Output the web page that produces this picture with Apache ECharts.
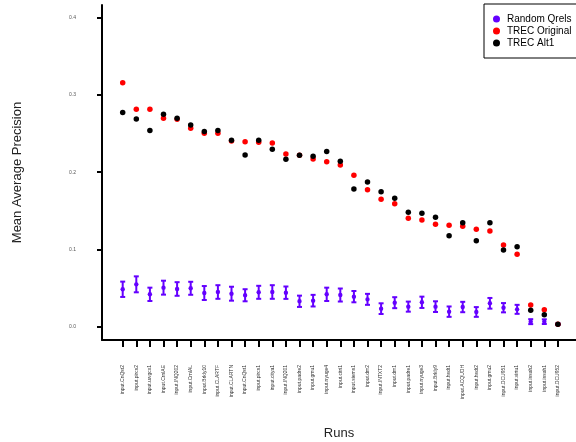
<!DOCTYPE html>
<html>
<head>
<meta charset="utf-8">
<script src="https://cdn.jsdelivr.net/npm/echarts@6/dist/echarts.min.js"></script>
<style>html,body{margin:0;padding:0;background:#fff}#c{width:576px;height:442px}</style>
</head>
<body>
<div id="c"></div>
<script>
const runs = ["input.CnQst2","input.pircs2","input.uwgcx1","input.CrnlAE","input.INQ202","input.CrnlAL","input.Brkly10","input.CLARTF","input.CLARTN","input.CnQst1","input.pircs1","input.citya1","input.INQ201","input.padre2","input.gmu1","input.nyuge4","input.citri1","input.siems1","input.dm2","input.INTXT2","input.dm1","input.padre1","input.nyuge3","input.Brkly9","input.hsdt1","input.ACQUDH","input.hsdt2","input.gmu2","input.DCU951","input.virtu1","input.issah2","input.issah1","input.DCU952"];
const trecOriginal = [0.3156,0.2812,0.2812,0.2696,0.2683,0.2567,0.2502,0.2502,0.2403,0.2394,0.2386,0.2377,0.2235,0.2218,0.2171,0.2134,0.2093,0.1960,0.1774,0.1650,0.1593,0.1404,0.1382,0.1327,0.1314,0.1301,0.1262,0.1240,0.1059,0.0939,0.0284,0.0224,0.0035];
const trecAlt1 = [0.2769,0.2687,0.2537,0.2748,0.2696,0.2610,0.2524,0.2537,0.2412,0.2222,0.2412,0.2296,0.2166,0.2218,0.2205,0.2268,0.2141,0.1783,0.1873,0.1748,0.1663,0.1481,0.1469,0.1417,0.1180,0.1348,0.1115,0.1348,0.0995,0.1037,0.0215,0.0159,0.0035];
const qrelsMean = [0.0487,0.0551,0.0422,0.0508,0.0491,0.0500,0.0439,0.0452,0.0430,0.0410,0.0448,0.0452,0.0443,0.0332,0.0340,0.0422,0.0413,0.0392,0.0357,0.0237,0.0314,0.0263,0.0319,0.0263,0.0198,0.0258,0.0194,0.0306,0.0249,0.0228,0.0069,0.0069,0.0035];
const qrelsErr = [0.0099,0.0103,0.0086,0.0090,0.0088,0.0084,0.0090,0.0088,0.0090,0.0078,0.0084,0.0088,0.0080,0.0073,0.0075,0.0086,0.0084,0.0073,0.0071,0.0069,0.0071,0.0065,0.0073,0.0069,0.0067,0.0067,0.0063,0.0069,0.0060,0.0058,0.0032,0.0030,0.0010];
const yTicks = [0, 0.1, 0.2, 0.3, 0.4];
const seriesNames = ["Random Qrels", "TREC Original", "TREC Alt1"];

const PURPLE = '#6400ff';
const xIdx = runs.map((r, i) => i + 1);

const chart = echarts.init(document.getElementById('c'), null, {renderer: 'canvas'});
chart.setOption({
  animation: false,
  backgroundColor: '#fff',
  textStyle: {fontFamily: 'Liberation Sans, Arial, sans-serif'},
  grid: {left: 102, right: 0, top: 5, bottom: 102, containLabel: false, outerBoundsMode: 'none'},
  legend: {
    orient: 'vertical', left: 484, top: 4,
    padding: [9, 6, 9, 9], itemGap: 0, itemWidth: 7, itemHeight: 7,
    borderColor: '#000', borderWidth: 1,
    textStyle: {fontSize: 10, color: '#000', lineHeight: 12, padding: [0, 0, 0, 2]},
    data: seriesNames.map(n => ({name: n, icon: 'circle'}))
  },
  xAxis: {
    type: 'value', min: -0.522, max: 34.33,
    name: 'Runs', nameLocation: 'middle', nameGap: 87,
    nameTextStyle: {fontSize: 13, color: '#222'},
    axisLine: {show: true, onZero: false, lineStyle: {color: '#000', width: 2}},
    axisTick: {show: true, length: 7, customValues: xIdx, lineStyle: {color: '#000', width: 2}},
    axisLabel: {show: true, customValues: xIdx, rotate: 90, margin: 25, fontSize: 5, color: '#333',
      formatter: v => runs[Math.round(v) - 1] || ''},
    splitLine: {show: false}
  },
  yAxis: {
    type: 'value', min: -0.0168, max: 0.4159,
    name: 'Mean Average Precision', nameLocation: 'middle', nameGap: 78, nameRotate: 90,
    nameTextStyle: {fontSize: 13, color: '#222'},
    axisLine: {show: true, onZero: false, lineStyle: {color: '#000', width: 2}},
    axisTick: {show: true, length: 5, customValues: yTicks, lineStyle: {color: '#000', width: 2}},
    axisLabel: {show: true, customValues: yTicks, margin: 26, fontSize: 5, color: '#555',
      formatter: v => v.toFixed(1)},
    splitLine: {show: false}
  },
  series: [
    {
      name: seriesNames[0], type: 'custom',
      itemStyle: {color: PURPLE},
      data: qrelsMean.map((m, i) => [i + 1, m, qrelsErr[i]]),
      renderItem: function (params, api) {
        const x = api.value(0), m = api.value(1), e = api.value(2);
        const top = api.coord([x, m + e]);
        const bot = api.coord([x, m - e]);
        const c = api.coord([x, m]);
        const cw = 2.5;
        const st = {stroke: PURPLE, lineWidth: 2};
        return {type: 'group', children: [
          {type: 'line', shape: {x1: top[0], y1: top[1], x2: bot[0], y2: bot[1]}, style: st},
          {type: 'line', shape: {x1: top[0] - cw, y1: top[1], x2: top[0] + cw, y2: top[1]}, style: st},
          {type: 'line', shape: {x1: bot[0] - cw, y1: bot[1], x2: bot[0] + cw, y2: bot[1]}, style: st},
          {type: 'circle', shape: {cx: c[0], cy: c[1], r: 2.2}, style: {fill: PURPLE}}
        ]};
      }
    },
    {
      name: seriesNames[1], type: 'scatter', symbol: 'circle', symbolSize: 5.5,
      itemStyle: {color: '#ff0000', opacity: 1},
      data: trecOriginal.map((v, i) => [i + 1, v])
    },
    {
      name: seriesNames[2], type: 'scatter', symbol: 'circle', symbolSize: 5.5,
      itemStyle: {color: '#000000', opacity: 1},
      data: trecAlt1.map((v, i) => [i + 1, v])
    }
  ]
});
</script>
</body>
</html>
